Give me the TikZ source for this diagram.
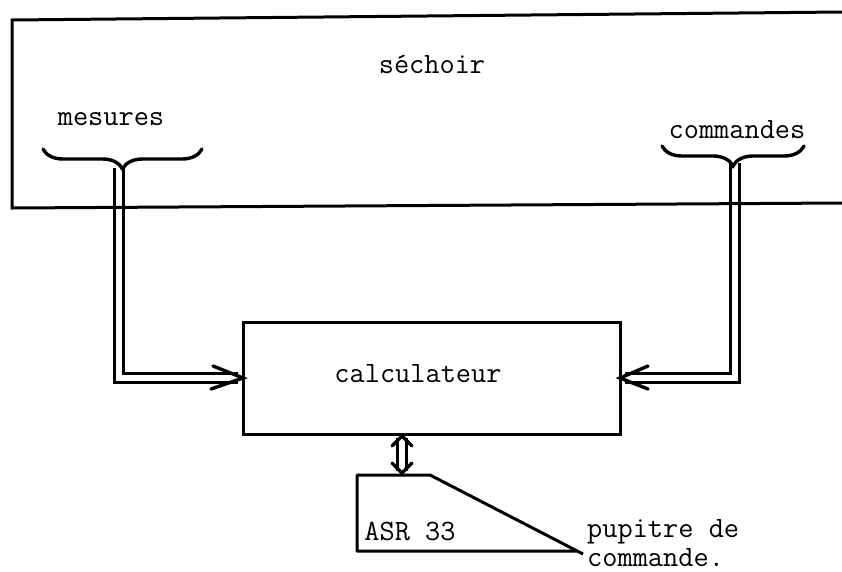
\documentclass[tikz,border=0pt]{standalone}
\usepackage{fontspec}
\usetikzlibrary{decorations.pathreplacing,calc}
\begin{document}
\begin{tikzpicture}[x=1pt,y=-1pt,
  frame/.style={line width=3pt},
  txt/.style={font=\ttfamily\fontsize{29.5}{34}\selectfont, inner sep=0pt},
  rail/.style={line width=2.7pt, double distance=6pt, line join=miter},
  barb/.style={line width=3.4pt, line cap=round, line join=miter},
  curly/.style={line width=3.4pt, line cap=round, decorate,
    decoration={brace, amplitude=20pt, aspect=0.5}}]
\useasboundingbox (0,0) rectangle (842,571);

% computer box
\node[draw, frame, minimum width=377pt, minimum height=112pt,
      inner sep=0pt, outer sep=0pt] (calc) at (431.5,378) {};
\node[txt, anchor=base] (calctxt) at (418,382) {calculateur};

% brace tips feeding the double lines
\coordinate (mtip) at (119,168);
\coordinate (ctip) at (735,163);

% double-line connectors into the computer
\draw[rail, shorten >=5pt] (mtip) |- (calc.west);
\draw[rail, shorten >=5pt] (ctip) |- (calc.east);
\draw[barb] ($(calc.west)+(-30,-12)$) -- (calc.west) -- ($(calc.west)+(-32,11)$);
\draw[barb] ($(calc.east)+(28,-12)$) -- (calc.east) -- ($(calc.east)+(28,11)$);

% dryer enclosure (open on the right)
\draw[frame] (842,12) -- (12,20) -- (12,208) -- (842,203);
\node[txt, anchor=base] (sechoir) at (432,73) {séchoir};
\node[txt, anchor=base] (mesures) at (111,125) {mesures};
\node[txt, anchor=base] (commandes) at (737,138) {commandes};
\draw[curly] (202,149) -- (43,149);
\draw[curly] (804,146) -- (662,146);

% teletype console
\coordinate (asrtop) at (402,475);
\draw[frame, line join=round] (577,551) -- (357,551) -- (357,475) -- (430,475) -- (583,554);
\node[txt, anchor=base] (asr) at (410,540) {ASR 33};
\node[txt, anchor=base west] (pupitre) at (587,537) {pupitre de};
\node[txt, anchor=base west] (commande) at (587,566) {commande.};

% two-way link computer <-> console
\coordinate (cbot) at (calc.south -| asrtop);
\draw[rail, shorten <=4pt, shorten >=4pt] (cbot) -- (asrtop);
\draw[barb] ($(cbot)+(-10,12)$) -- ($(cbot)+(0,2)$) -- ($(cbot)+(10,12)$);
\draw[barb] ($(asrtop)+(-10,-12)$) -- ($(asrtop)+(0,-2)$) -- ($(asrtop)+(10,-12)$);
\end{tikzpicture}
\end{document}
